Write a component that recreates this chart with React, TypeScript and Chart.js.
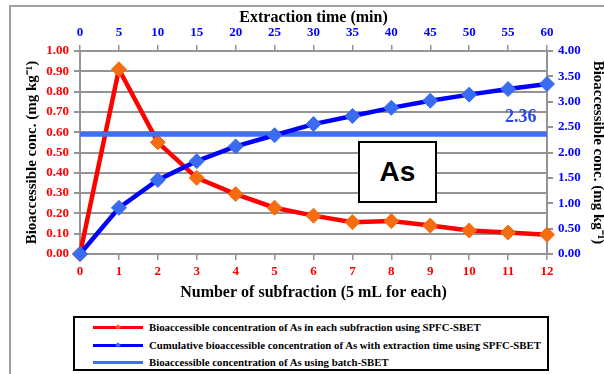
import React, { useEffect, useRef } from "react";
import { Chart, registerables } from "chart.js";

Chart.register(...registerables);

const subfractions = [0, 1, 2, 3, 4, 5, 6, 7, 8, 9, 10, 11, 12];
const subfractionValues = [0, 0.91, 0.55, 0.375, 0.295, 0.228, 0.189, 0.157, 0.162, 0.14, 0.116, 0.106, 0.095];
const cumulativeValues = [0, 0.91, 1.46, 1.83, 2.12, 2.34, 2.56, 2.72, 2.88, 3.02, 3.14, 3.25, 3.35];
const batchValue = 2.36;
const timeMin = 0;
const timeMax = 60;
const timeStep = 5;

const legendLabels = [
  "Bioaccessible concentration of As in each subfraction using SPFC-SBET",
  "Cumulative bioaccessible concentration of As with extraction time using SPFC-SBET",
  "Bioaccessible concentration of As using batch-SBET",
];

const SERIF = "'Liberation Serif', 'Times New Roman', serif";
const GRID = "#949494";

export default function App() {
  const canvasRef = useRef<HTMLCanvasElement | null>(null);

  useEffect(() => {
    const canvas = canvasRef.current;
    if (!canvas) return;
    Chart.defaults.font.family = SERIF;
    const chart = new Chart(canvas, {
      type: "line",
      data: {
        datasets: [
          {
            label: legendLabels[0],
            data: subfractions.map((x, i) => ({ x, y: subfractionValues[i] })),
            xAxisID: "x",
            yAxisID: "y",
            borderColor: "#ff0000",
            borderWidth: 4.5,
            pointStyle: "rectRot",
            pointRadius: 7.5,
            pointBackgroundColor: "#f56d10",
            pointBorderColor: "#f56d10",
            pointBorderWidth: 1,
            tension: 0,
            clip: false,
            order: 3,
          },
          {
            label: legendLabels[1],
            data: subfractions.map((x, i) => ({ x, y: cumulativeValues[i] })),
            xAxisID: "x",
            yAxisID: "y2",
            borderColor: "#0000ff",
            borderWidth: 4.5,
            pointStyle: "rectRot",
            pointRadius: 7.5,
            pointBackgroundColor: "#3a6cf2",
            pointBorderColor: "#3a6cf2",
            pointBorderWidth: 1,
            tension: 0,
            clip: false,
            order: 1,
          },
          {
            label: legendLabels[2],
            data: [
              { x: subfractions[0], y: batchValue },
              { x: subfractions[subfractions.length - 1], y: batchValue },
            ],
            xAxisID: "x",
            yAxisID: "y2",
            borderColor: "#3d6ef5",
            borderWidth: 5,
            pointRadius: 0,
            order: 2,
          },
        ],
      },
      options: {
        responsive: false,
        animation: false,
        devicePixelRatio: 1,
        layout: { padding: { left: 0, right: 0, top: 0, bottom: 60 } },
        plugins: { legend: { display: false }, tooltip: { enabled: false } },
        scales: {
          x: {
            type: "linear",
            position: "bottom",
            min: 0,
            max: 12,
            ticks: {
              stepSize: 1,
              color: "#ff0000",
              font: { size: 13, weight: "bold" },
              padding: 4,
              maxRotation: 0,
            },
            grid: { drawOnChartArea: false, color: GRID, tickLength: 6, lineWidth: 1.5 },
            border: { color: GRID, width: 2 },
            title: {
              display: true,
              text: "Number of subfraction (5 mL for each)",
              color: "#000",
              font: { size: 16, weight: "bold" },
              padding: { top: 0, bottom: 12 },
            },
            afterFit: (s: any) => {
              s.height = 60;
            },
          },
          x2: {
            type: "linear",
            position: "top",
            min: timeMin,
            max: timeMax,
            ticks: {
              stepSize: timeStep,
              color: "#0000ff",
              font: { size: 13, weight: "bold" },
              padding: 5,
              maxRotation: 0,
            },
            grid: { drawOnChartArea: false, color: GRID, tickLength: 6, lineWidth: 1.5 },
            border: { color: GRID, width: 2 },
            title: {
              display: true,
              text: "Extraction time (min)",
              color: "#000",
              font: { size: 16, weight: "bold", lineHeight: 1 },
              padding: { top: 10, bottom: 0 },
            },
            afterFit: (s: any) => {
              s.height = 51;
            },
          },
          y: {
            type: "linear",
            position: "left",
            min: 0,
            max: 1,
            ticks: {
              stepSize: 0.1,
              color: "#ff0000",
              font: { size: 13, weight: "bold" },
              padding: 5,
              callback: (v: any) => Number(v).toFixed(2),
            },
            grid: { color: GRID, tickLength: 6, lineWidth: 2 },
            border: { color: GRID, width: 2 },
            title: {
              display: true,
              text: "Bioaccessible conc. (mg kg\u207B\u00B9)",
              color: "#000",
              font: { size: 15, weight: "bold", lineHeight: 1 },
              padding: { top: 25, bottom: 0 },
            },
            afterFit: (s: any) => {
              s.width = 80;
            },
          },
          y2: {
            type: "linear",
            position: "right",
            min: 0,
            max: 4,
            ticks: {
              stepSize: 0.5,
              color: "#0000ff",
              font: { size: 13, weight: "bold" },
              padding: 5,
              callback: (v: any) => Number(v).toFixed(2),
            },
            grid: { drawOnChartArea: false, color: GRID, tickLength: 6, lineWidth: 2 },
            border: { color: GRID, width: 2 },
            title: {
              display: true,
              text: "Bioaccessible conc. (mg kg\u207B\u00B9)",
              color: "#000",
              font: { size: 15, weight: "bold", lineHeight: 1 },
              padding: { top: -1, bottom: 0 },
            },
            afterFit: (s: any) => {
              s.width = 57;
            },
          },
        },
      },
    });
    return () => chart.destroy();
  }, []);

  const legendColors = ["#ff0000", "#0000ff", "#3d6ef5"];
  const markerColors = ["#f56d10", "#3a6cf2", null];

  return (
    <div style={{ position: "fixed", left: 0, top: 0, width: 604, height: 374, background: "#fff", overflow: "hidden" }}>
      <div style={{ position: "absolute", left: 9, top: 5, width: 600, height: 380, borderLeft: "2px solid #a0a0a0", borderTop: "2px solid #a0a0a0" }} />
      <canvas ref={canvasRef} width={604} height={374} style={{ position: "absolute", left: 0, top: 0, width: 604, height: 374 }} />
      <div
        style={{
          position: "absolute",
          left: 358,
          top: 141,
          width: 75,
          height: 58,
          border: "2px solid #000",
          background: "#fff",
          display: "flex",
          alignItems: "center",
          justifyContent: "center",
          fontFamily: "'Liberation Sans', Arial, sans-serif",
          fontWeight: "bold",
          fontSize: 28,
          color: "#000",
        }}
      >
        As
      </div>
      <div
        style={{
          position: "absolute",
          left: 505,
          top: 106,
          fontFamily: SERIF,
          fontWeight: "bold",
          fontSize: 18,
          color: "#2648e8",
          lineHeight: "20px",
        }}
      >
        2.36
      </div>
      <div
        style={{
          position: "absolute",
          left: 73,
          top: 316,
          width: 472,
          height: 51,
          border: "2px solid #000",
          background: "#fff",
        }}
      >
        {legendLabels.map((label, i) => (
          <div key={i} style={{ position: "absolute", left: 0, top: 2 + i * 17.5, height: 16, width: 470 }}>
            <div style={{ position: "absolute", left: 18, top: 6, width: 50, height: 3, background: legendColors[i] }} />
            {markerColors[i] ? (
              <div
                style={{
                  position: "absolute",
                  left: 41,
                  top: 5,
                  width: 4,
                  height: 4,
                  background: markerColors[i] as string,
                  transform: "rotate(45deg)",
                }}
              />
            ) : null}
            <div
              style={{
                position: "absolute",
                left: 74,
                top: 0,
                fontFamily: SERIF,
                fontWeight: "bold",
                fontSize: 10.8,
                lineHeight: "14px",
                color: "#000",
                whiteSpace: "nowrap",
              }}
            >
              {label}
            </div>
          </div>
        ))}
      </div>
    </div>
  );
}
